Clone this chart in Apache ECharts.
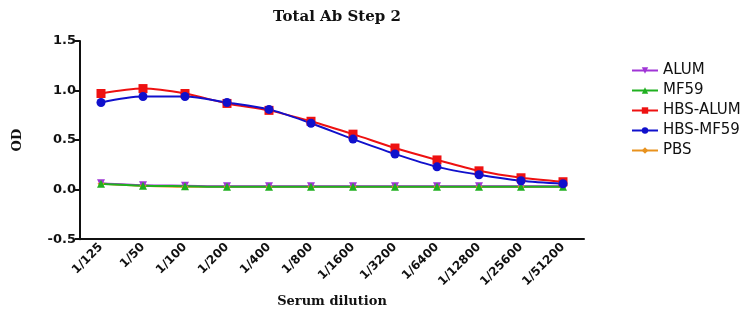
<!DOCTYPE html>
<html>
<head>
<meta charset="utf-8">
<script src="https://cdn.jsdelivr.net/npm/echarts@6/dist/echarts.min.js"></script>
<style>
  html, body { margin: 0; padding: 0; background: #fff; }
  #main { width: 749px; height: 313px; }
</style>
</head>
<body>
<div id="main"></div>
<script>
// x轴数据
const dilutions = ['1/125', '1/50', '1/100', '1/200', '1/400', '1/800', '1/1600', '1/3200', '1/6400', '1/12800', '1/25600', '1/51200']
const pbs = [0.06, 0.04, 0.03, 0.03, 0.03, 0.03, 0.03, 0.03, 0.03, 0.03, 0.03, 0.03]
const alum = [0.065, 0.045, 0.04, 0.035, 0.035, 0.035, 0.035, 0.035, 0.035, 0.035, 0.035, 0.035]
const mf59 = [0.06, 0.04, 0.035, 0.03, 0.03, 0.03, 0.03, 0.03, 0.03, 0.03, 0.03, 0.03]
const hbsAlum = [0.97, 1.02, 0.97, 0.87, 0.80, 0.69, 0.56, 0.42, 0.30, 0.19, 0.12, 0.08]
const hbsMf59 = [0.88, 0.94, 0.94, 0.88, 0.81, 0.67, 0.51, 0.36, 0.23, 0.15, 0.09, 0.06]

const myChart = echarts.init(document.getElementById('main'))

function line (name, data, color, symbol, size) {
  return {
    name: name,
    type: 'line',
    data: data,
    smooth: 0.3,
    symbol: symbol,
    symbolSize: size,
    itemStyle: { color: color },
    lineStyle: { color: color, width: 2 }
  }
}

const option = {
  animation: false,
  title: {
    text: 'Total Ab Step 2',
    left: 332,
    textAlign: 'center',
    top: 5,
    textStyle: { fontFamily: 'DejaVu Serif', fontWeight: 'bold', fontSize: 15, color: '#111' }
  },
  legend: {
    orient: 'vertical',
    left: 626,
    top: 58,
    itemGap: 5,
    itemWidth: 26,
    itemHeight: 8,
    textStyle: { fontFamily: 'DejaVu Sans', fontSize: 15, color: '#111' },
    data: ['ALUM', 'MF59', 'HBS-ALUM', 'HBS-MF59', 'PBS']
  },
  grid: {
    left: 80,
    right: 165,
    top: 41,
    bottom: 71
  },
  xAxis: {
    type: 'category',
    boundaryGap: true,
    data: dilutions,
    name: 'Serum dilution',
    nameLocation: 'middle',
    nameGap: 54,
    nameTextStyle: { fontFamily: 'DejaVu Serif', fontWeight: 'bold', fontSize: 13, color: '#111' },
    axisLine: { onZero: false, lineStyle: { color: '#111', width: 2 } },
    axisTick: { alignWithLabel: true, length: 5, lineStyle: { color: '#111', width: 2 } },
    axisLabel: { rotate: 45, fontFamily: 'DejaVu Sans', fontWeight: 'bold', fontSize: 12, color: '#111', margin: 6 }
  },
  yAxis: {
    type: 'value',
    min: -0.5,
    max: 1.5,
    interval: 0.5,
    name: 'OD',
    nameLocation: 'middle',
    nameGap: 56,
    nameRotate: 90,
    nameTextStyle: { fontFamily: 'DejaVu Serif', fontWeight: 'bold', fontSize: 13, color: '#111' },
    splitLine: { show: false },
    axisLine: { show: true, lineStyle: { color: '#111', width: 2 } },
    axisTick: { show: true, length: 5, lineStyle: { color: '#111', width: 2 } },
    axisLabel: {
      fontFamily: 'DejaVu Sans',
      fontWeight: 'bold',
      fontSize: 13,
      color: '#111',
      margin: 4,
      formatter: v => v.toFixed(1)
    }
  },
  series: [
    line('PBS', pbs, '#e8921e', 'diamond', 7),
    line('ALUM', alum, '#a035d6', 'triangle', 8),
    line('MF59', mf59, '#20b020', 'triangle', 8),
    line('HBS-ALUM', hbsAlum, '#ee1111', 'rect', 9),
    line('HBS-MF59', hbsMf59, '#1010cc', 'circle', 9)
  ]
}
option.series[1].symbolRotate = 180
myChart.setOption(option)
</script>
</body>
</html>
